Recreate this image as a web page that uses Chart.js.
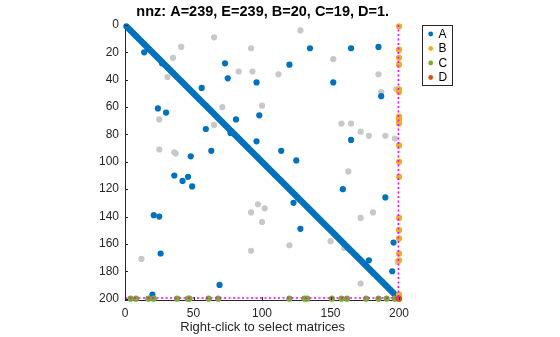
<!DOCTYPE html>
<html lang="en">
<head>
<meta charset="UTF-8">
<title>nnz spy</title>
<script src="https://cdn.jsdelivr.net/npm/chart.js"></script>
<style>
  body { margin: 0; background: #fff; }
  canvas { display: block; }
</style>
</head>
<body>
<canvas id="spyChart" width="560" height="337"></canvas>
<script>
// nonzero positions as [column, row]
const diagSize = 199;   // A has a full diagonal 1..199
const offDiagA = [[14,20],[27,28],[73,28],[75,39],[96,42],[56,46],[24,61],[30,64],[81,69],[98,66],
  [135,17],[165,17],[185,16],[120,29],[152,42],[187,52],[59,76],[77,79],[96,85],[63,92],
  [48,96],[36,110],[42,114],[46,111],[49,118],[165,84],[114,92],[125,99],[159,120],[190,126],
  [123,130],[21,139],[25,140],[26,167],[69,190],[20,197],[128,149],[178,172],[196,159],[195,180]];
const pointsE = [[65,9],[41,16],[35,24],[31,38],[92,17],[83,34],[93,34],[71,60],[25,69],[100,59],
  [128,4],[152,25],[112,36],[185,36],[187,49],[198,47],[65,73],[25,91],[36,93],[37,94],
  [97,131],[158,72],[165,72],[172,78],[178,81],[190,81],[197,83],[163,107],[102,134],[12,171],
  [92,137],[100,144],[92,165],[120,161],[150,158],[160,163],[172,141],[181,137],[172,189],[199,173]];
const rowsB = [1,18,24,29,47,49,67,69,72,88,100,111,141,150,156,167,172,197,200];  // column 200
const colsC = [4,8,17,21,38,46,47,61,68,120,131,133,151,158,162,176,185,191,197]; // row 200
const cornerD = [[200,200]];
const blockEdge = 199.5;
const xTicks = [0, 50, 100, 150, 200];
const yTicks = [0, 20, 40, 60, 80, 100, 120, 140, 160, 180, 200];
const titleText = 'nnz: A=239, E=239, B=20, C=19, D=1.';
const xTitle = 'Right-click to select matrices';

const FONT = '"Liberation Sans", Arial, Helvetica, sans-serif';
const AXIS = '#262626';

const toXY = p => ({ x: p[0], y: p[1] });
const diagA = [];
for (let i = 1; i <= diagSize; i++) diagA.push({ x: i, y: i });

function dots(label, data, color, order) {
  return {
    type: 'scatter', label: label, data: data, order: order,
    backgroundColor: color, borderWidth: 0, pointRadius: 3.1, clip: false
  };
}

const datasets = [
  { type: 'line', label: 'vsep', data: [{x: blockEdge, y: 0}, {x: blockEdge, y: 201}],
    borderColor: '#ff00ff', borderWidth: 1.5, borderDash: [2, 2.5], pointRadius: 0, order: 0, clip: false },
  { type: 'line', label: 'hsep', data: [{x: 0, y: blockEdge}, {x: blockEdge, y: blockEdge}],
    borderColor: '#ff00ff', borderWidth: 1.5, borderDash: [2, 2.5], pointRadius: 0, order: 0, clip: false },
  dots('D', cornerD.map(toXY), '#d95319', 1),
  dots('C', colsC.map(c => ({ x: c, y: 200 })), '#77ac30', 2),
  dots('B', rowsB.map(r => ({ x: 200, y: r })), '#edb120', 3),
  dots('A', diagA.concat(offDiagA.map(toXY)), '#0072bd', 4),
  dots('E', pointsE.map(toXY), '#c8c8c8', 5)
];

// title, inward tick marks and the boxed legend
const spyDecor = {
  id: 'spyDecor',
  afterDraw(chart) {
    const ctx = chart.ctx;
    const area = chart.chartArea;
    const xs = chart.scales.x, ys = chart.scales.y;
    ctx.save();
    ctx.strokeStyle = AXIS;
    ctx.lineWidth = 1;
    ctx.beginPath();
    xTicks.forEach(v => {
      const px = Math.round(xs.getPixelForValue(v)) + 0.5;
      ctx.moveTo(px, area.bottom); ctx.lineTo(px, area.bottom - 3);
    });
    yTicks.forEach(v => {
      const py = Math.round(ys.getPixelForValue(v)) + 0.5;
      ctx.moveTo(area.left, py); ctx.lineTo(area.left + 3, py);
    });
    ctx.stroke();

    ctx.fillStyle = '#000';
    ctx.font = 'bold 14.5px ' + FONT;
    ctx.textAlign = 'center';
    ctx.textBaseline = 'middle';
    ctx.fillText(titleText, (area.left + area.right) / 2, 12);

    // legend
    ctx.fillStyle = '#fff';
    ctx.fillRect(422, 25, 30, 60);
    ctx.strokeStyle = AXIS;
    ctx.strokeRect(422.5, 25.5, 30, 60);
    const entries = ['A', 'B', 'C', 'D'];
    const rowY = [34, 48.5, 63, 77.5];
    ctx.font = '12px ' + FONT;
    ctx.textAlign = 'left';
    entries.forEach((name, i) => {
      const ds = chart.data.datasets.find(d => d.label === name);
      ctx.fillStyle = ds.backgroundColor;
      ctx.beginPath();
      ctx.arc(430.7, rowY[i], 2.4, 0, Math.PI * 2);
      ctx.fill();
      ctx.fillStyle = '#000';
      ctx.fillText(name, 438.5, rowY[i] + 0.5);
    });
    ctx.restore();
  }
};

new Chart(document.getElementById('spyChart'), {
  data: { datasets: datasets },
  options: {
    responsive: false,
    animation: false,
    devicePixelRatio: 1,
    layout: { padding: { top: 25, right: 159.6, left: 0, bottom: 0 } },
    plugins: { legend: { display: false }, tooltip: { enabled: false } },
    scales: {
      x: {
        type: 'linear', min: 0, max: 201,
        grid: { display: false, drawTicks: false },
        border: { display: true, color: AXIS, width: 1 },
        afterBuildTicks: s => { s.ticks = xTicks.map(v => ({ value: v })); },
        afterFit: s => { s.height = 37; },
        ticks: { color: AXIS, padding: 6, maxRotation: 0, font: { family: FONT, size: 12 } },
        title: { display: true, text: xTitle, color: AXIS, padding: { top: 0, bottom: 1.5 },
                 font: { family: FONT, size: 13 } }
      },
      y: {
        type: 'linear', min: 0, max: 201, reverse: true,
        grid: { display: false, drawTicks: false },
        border: { display: true, color: AXIS, width: 1 },
        afterBuildTicks: s => { s.ticks = yTicks.map(v => ({ value: v })); },
        afterFit: s => { s.width = 125; },
        ticks: { color: AXIS, padding: 6, font: { family: FONT, size: 12 } }
      }
    }
  },
  plugins: [spyDecor]
});
</script>
</body>
</html>
